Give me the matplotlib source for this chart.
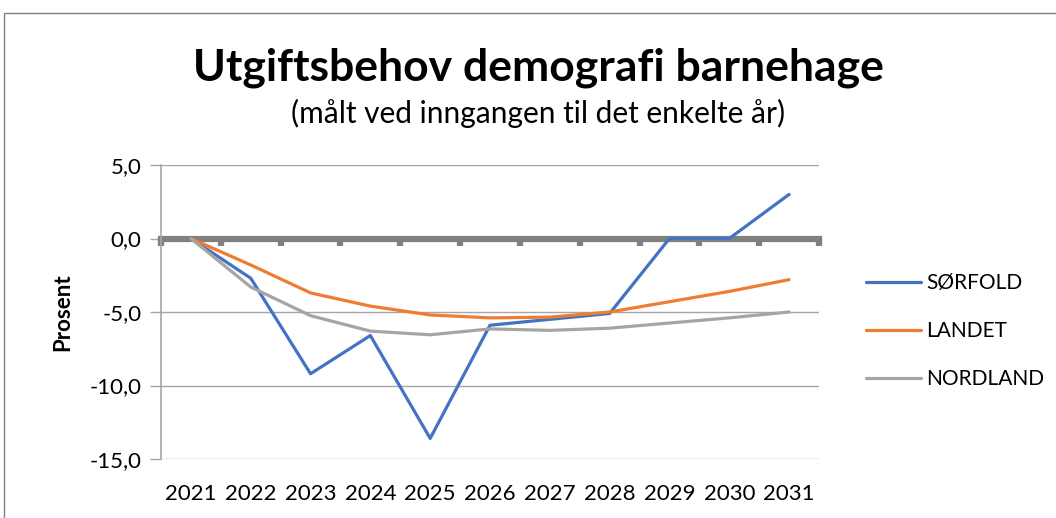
import numpy as np
import matplotlib
matplotlib.use("Agg")
import matplotlib.pyplot as plt
from matplotlib.patches import Rectangle

plt.rcParams['font.family'] = ['Lato', 'DejaVu Sans']

# data
years = [2021, 2022, 2023, 2024, 2025, 2026, 2027, 2028, 2029, 2030, 2031]
sorfold = [0.0, -2.7, -9.2, -6.6, -13.6, -5.9, -5.5, -5.1, 0.0, 0.0, 3.0]
landet = [0.0, -1.8, -3.7, -4.6, -5.2, -5.4, -5.35, -5.0, -4.3, -3.6, -2.8]
nordland = [0.0, -3.3, -5.25, -6.3, -6.55, -6.15, -6.25, -6.1, -5.75, -5.4, -5.0]
series_names = ['SØRFOLD', 'LANDET', 'NORDLAND']
colors = ['#4472C4', '#ED7D31', '#A5A5A5']
yticks = [-15, -10, -5, 0, 5]

fig = plt.figure(figsize=(10.56, 5.18), dpi=100)
ax = fig.add_axes([161/1056, 1-459/518, (819-161)/1056, (459-165)/518])

for vals, name, c in zip([sorfold, landet, nordland], series_names, colors):
    ax.plot(years, vals, color=c, lw=2.3, label=name, solid_capstyle='round', zorder=3)

ax.set_xlim(years[0]-0.5, years[-1]+0.5)
ax.set_ylim(min(yticks), max(yticks))

# y axis
ax.set_yticks(yticks)
ax.set_yticklabels([f"{v:.1f}".replace('.', ',') for v in yticks], fontsize=16)
ax.tick_params(axis='y', direction='out', length=8, width=1, color='#A6A6A6', pad=6)
ax.grid(axis='y', color='#A6A6A6', lw=1)
ax.set_axisbelow(True)
ax.set_ylabel('Prosent', fontsize=16, fontweight='bold', labelpad=12)

# zero axis with tick marks between categories
for s in ['top', 'right']:
    ax.spines[s].set_visible(False)
ax.spines['left'].set_color('#A6A6A6')
ax.spines['left'].set_linewidth(1.2)
ax.spines['bottom'].set_position(('data', 0))
ax.spines['bottom'].set_color('#808080')
ax.spines['bottom'].set_linewidth(4.5)
ax.spines['bottom'].set_zorder(2)
ax.set_xticks(np.arange(years[0]-0.5, years[-1]+1, 1))
ax.tick_params(axis='x', direction='out', length=5, width=4.5, color='#808080', labelbottom=False)

# year labels at the bottom
sec = ax.secondary_xaxis(0)
sec.set_xticks(years)
sec.set_xticklabels([str(y) for y in years], fontsize=16)
sec.tick_params(length=0, pad=18)
sec.spines['bottom'].set_visible(False)

# titles
fig.text(0.5095, 1-68/518, 'Utgiftsbehov demografi barnehage', ha='center', va='center',
         fontsize=32, fontweight='bold')
fig.text(0.5095, 1-113/518, '(målt ved inngangen til det enkelte år)', ha='center', va='center',
         fontsize=21.5)

leg = ax.legend(loc='center left', bbox_to_anchor=(856/1056, 1-331/518), bbox_transform=fig.transFigure,
                frameon=False, fontsize=15, handlelength=2.6, handletextpad=0.25, labelspacing=1.35,
                borderpad=0)

# chart border
fig.patches.append(Rectangle((4/1056, -0.1), 1.1, 1.1 - 13/518, transform=fig.transFigure,
                             fill=False, edgecolor='#808080', lw=1))

fig.savefig('out.png', dpi=100)
